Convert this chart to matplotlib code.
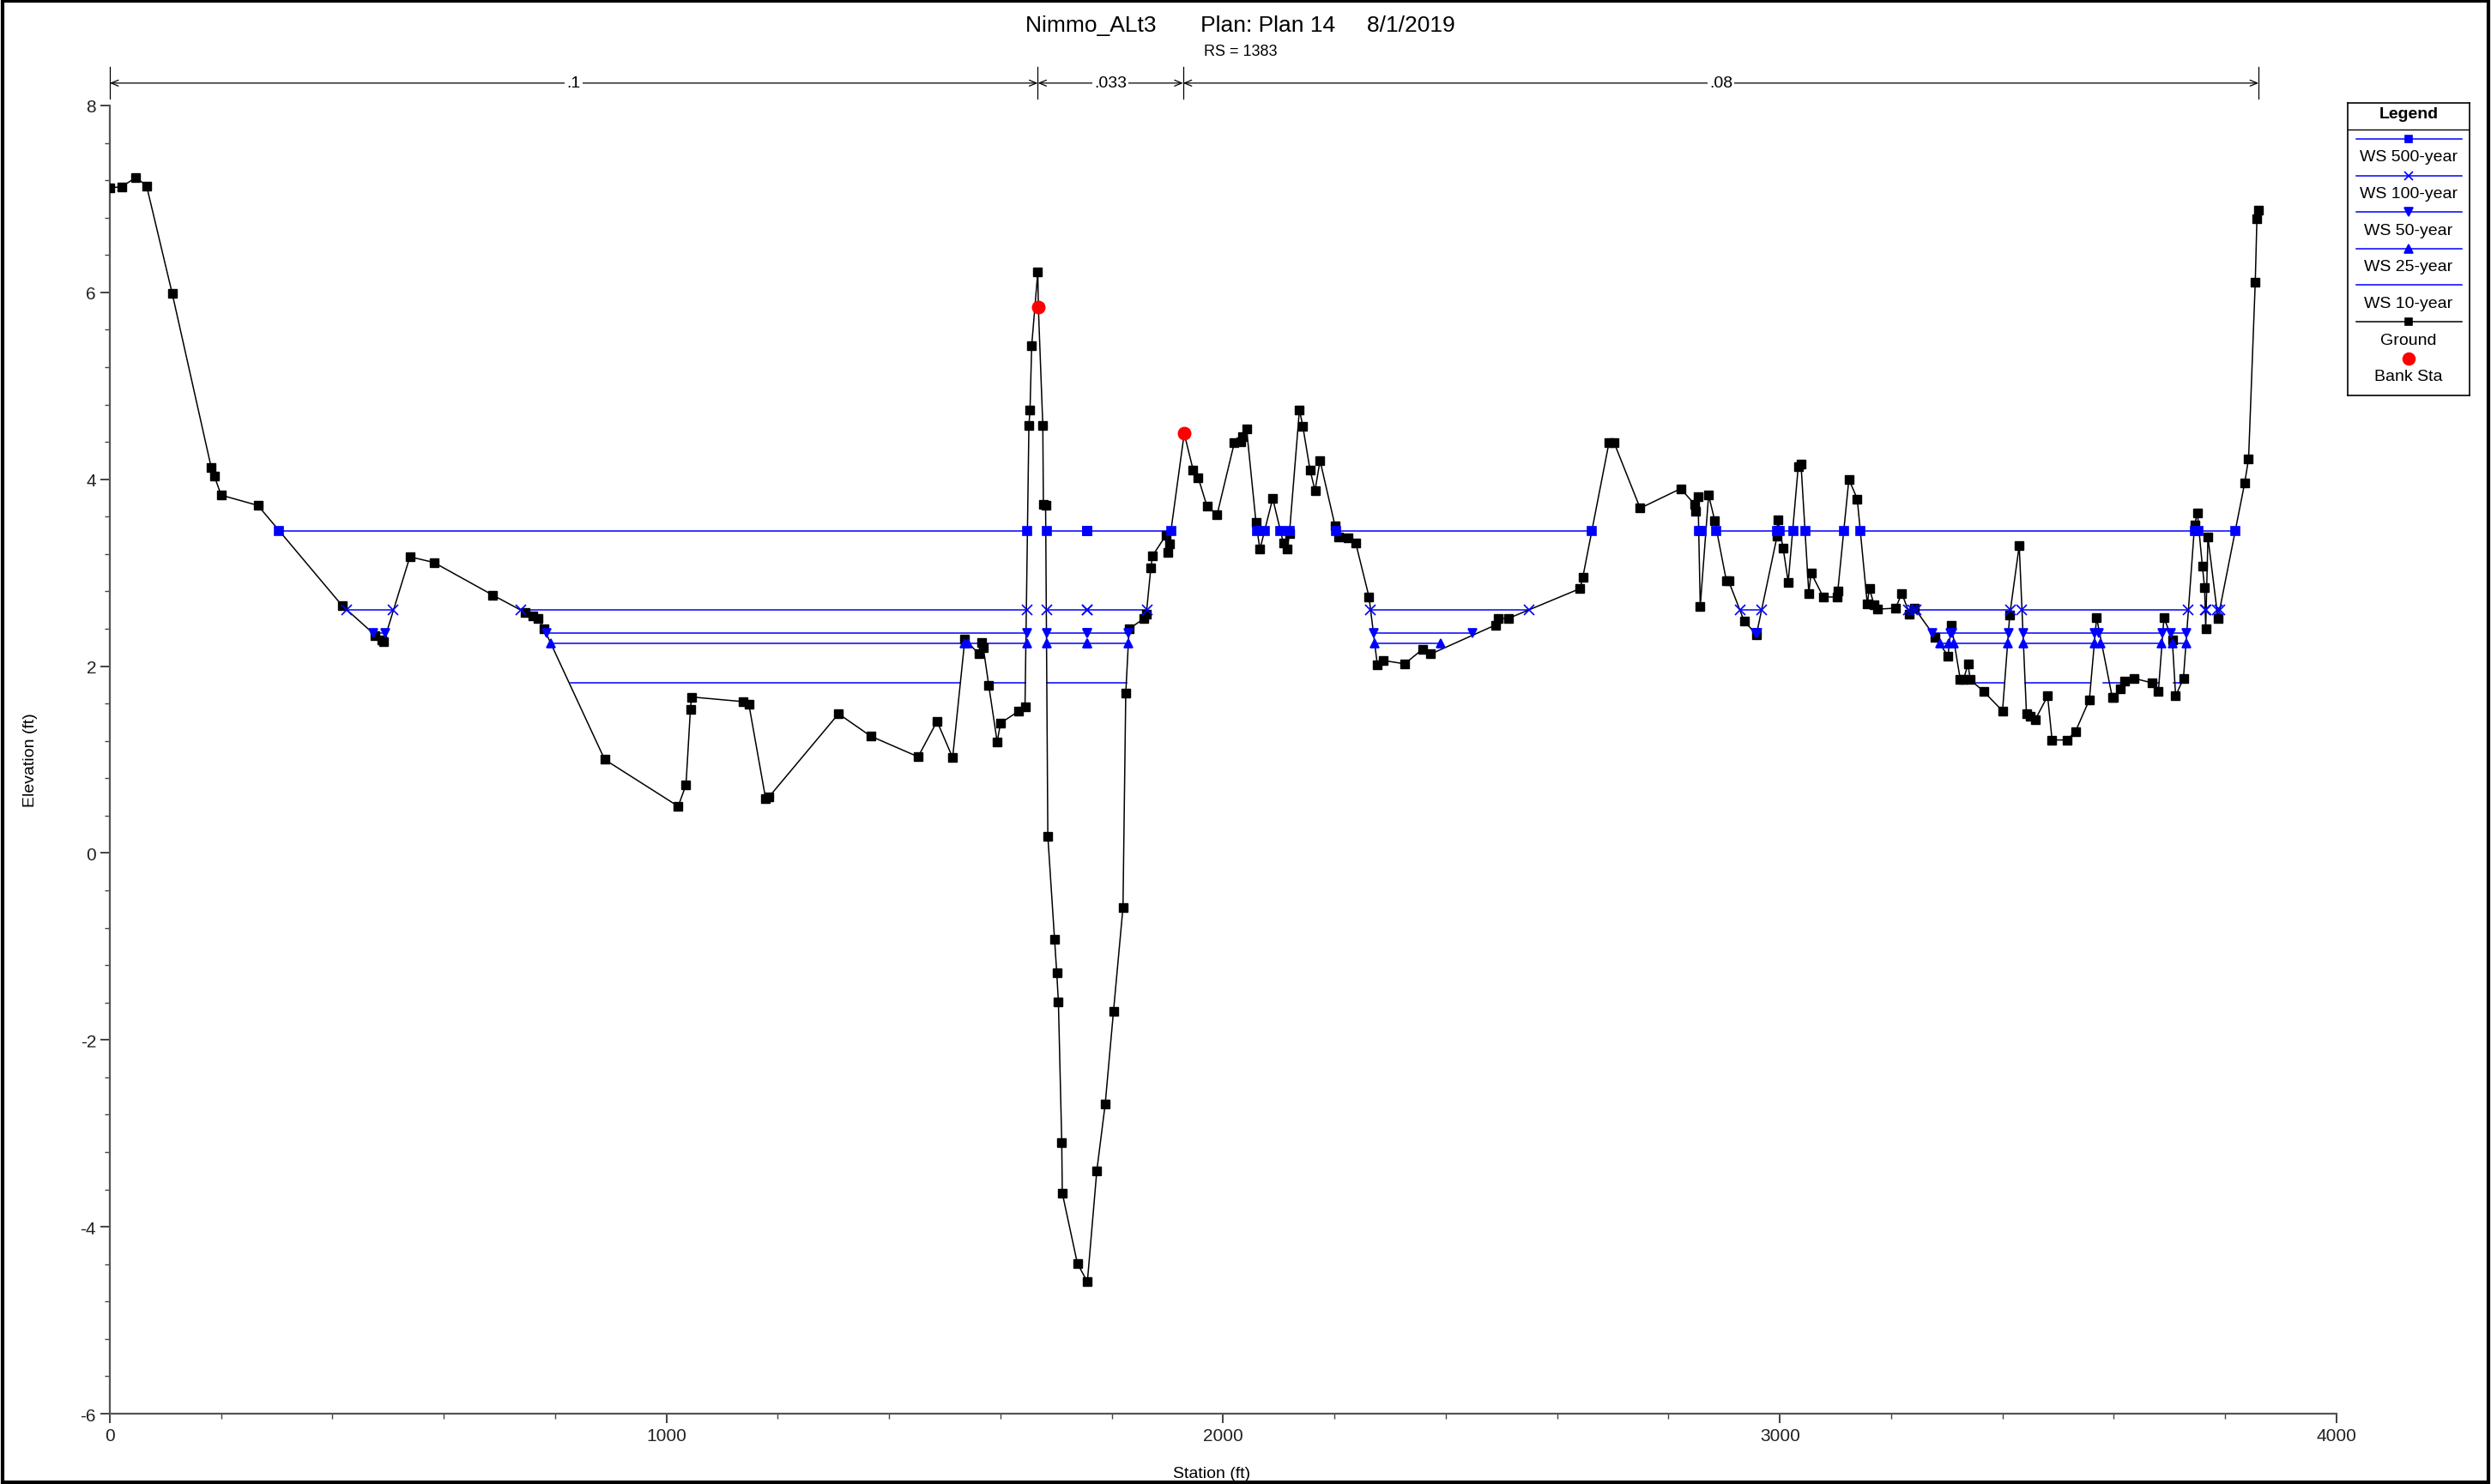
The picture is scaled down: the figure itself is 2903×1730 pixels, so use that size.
import matplotlib
matplotlib.use("Agg")
import matplotlib.pyplot as plt
from matplotlib.ticker import MultipleLocator
from matplotlib.patches import Rectangle

# Ground profile (station ft, elevation ft)
ground_sta = [0, 21, 47, 66, 112, 182, 188, 200, 266, 417, 477, 488, 492, 539, 582,
              688, 746, 760, 769, 780, 889, 1021, 1035, 1043, 1045, 1138, 1148, 1178,
              1184, 1309, 1367, 1452, 1486, 1514, 1536, 1561, 1566, 1569, 1579, 1594,
              1600, 1633, 1644, 1651, 1653, 1656, 1667, 1668, 1676, 1677, 1681, 1685,
              1697, 1701, 1704, 1710, 1711, 1738, 1756, 1773, 1788, 1803, 1820, 1825,
              1831, 1858, 1862, 1870, 1873, 1897, 1901, 1903, 1930, 1946, 1955, 1971,
              1989, 2020, 2031, 2034, 2042, 2059, 2066, 2089, 2108, 2115, 2119, 2137,
              2143, 2156, 2165, 2174, 2201, 2208, 2224, 2238, 2262, 2277, 2288, 2326,
              2358, 2373, 2489, 2494, 2512, 2641, 2646, 2693, 2702, 2749, 2822, 2847,
              2848, 2853, 2857, 2872, 2883, 2904, 2908, 2936, 2958, 2995, 2996, 3006,
              3015, 3033, 3038, 3052, 3056, 3078, 3103, 3104, 3124, 3139, 3157, 3161,
              3169, 3175, 3208, 3219, 3233, 3242, 3279, 3302, 3308, 3324, 3330, 3338,
              3342, 3366, 3400, 3413, 3430, 3443, 3450, 3459, 3481, 3489, 3516, 3531,
              3556, 3569, 3597, 3600, 3612, 3620, 3636, 3669, 3680, 3690, 3705, 3711,
              3725, 3745, 3750, 3759, 3763, 3765, 3769, 3787, 3835, 3842, 3854, 3857,
              3860]
ground_elev = [7.12, 7.13, 7.23, 7.14, 5.99, 4.13, 4.03, 3.83, 3.72, 2.65, 2.33, 2.28,
               2.26, 3.17, 3.11, 2.76, 2.575, 2.54, 2.51, 2.40, 1.00, 0.50, 0.73, 1.54,
               1.67, 1.62, 1.59, 0.585, 0.60, 1.49, 1.25, 1.03, 1.41, 1.02, 2.29, 2.13,
               2.25, 2.20, 1.79, 1.19, 1.39, 1.52, 1.565, 4.575, 4.74, 5.43, 6.22, 5.84,
               4.575, 3.73, 3.72, 0.18, -0.92, -1.28, -1.595, -3.095, -3.64, -4.39,
               -4.59, -3.40, -2.69, -1.69, -0.585, 1.71, 2.40, 2.51, 2.56, 3.05, 3.18,
               3.40, 3.22, 3.31, 4.49, 4.10, 4.02, 3.71, 3.62, 4.39, 4.40, 4.46, 4.54,
               3.535, 3.25, 3.795, 3.32, 3.255, 3.42, 4.745, 4.57, 4.10, 3.88, 4.20,
               3.50, 3.38, 3.37, 3.32, 2.74, 2.01, 2.06, 2.025, 2.18, 2.13, 2.44, 2.51,
               2.51, 2.83, 2.95, 4.39, 4.395, 3.69, 3.90, 3.73, 3.66, 3.81, 2.64, 3.83,
               3.56, 2.91, 2.91, 2.48, 2.34, 3.39, 3.57, 3.26, 2.90, 4.135, 4.16, 2.78,
               3.00, 2.74, 2.74, 2.80, 4.00, 3.79, 2.67, 2.83, 2.66, 2.61, 2.62, 2.78,
               2.56, 2.62, 2.31, 2.11, 2.44, 1.86, 1.86, 2.02, 1.855, 1.73, 1.52, 2.55,
               3.29, 1.49, 1.46, 1.43, 1.68, 1.21, 1.21, 1.30, 1.64, 2.52, 1.67, 1.67,
               1.76, 1.84, 1.87, 1.82, 1.73, 2.52, 2.28, 1.68, 1.87, 3.51, 3.64, 3.07,
               2.84, 2.40, 3.38, 2.51, 3.96, 4.22, 6.11, 6.79, 6.88]

# Bank stations
bank_sta = [1668, 1930]
bank_elev = [5.84, 4.49]

# Water surfaces: elevation and wet segments (start, end stations)
ws_names = ["WS 500-year", "WS 100-year", "WS 50-year", "WS 25-year", "WS 10-year"]
ws_elev = [3.45, 2.60, 2.35, 2.24, 1.82]
ws_markers = ["s", "x", "v", "^", None]
ws_segments = [
    [(304, 1648), (1683, 1756), (1756, 1906), (2061, 2075), (2103, 2119), (2203, 2662),
     (2854, 2860), (2886, 2995), (3000, 3024), (3046, 3116), (3144, 3745), (3752, 3818)],
    [(426, 508), (738, 1648), (1683, 1756), (1756, 1863), (2265, 2549), (2929, 2967),
     (3231, 3239), (3244, 3414), (3435, 3734), (3764, 3766), (3786, 3790)],
    [(474, 495), (785, 1648), (1683, 1756), (1756, 1830), (2270, 2448), (2956, 2960),
     (3274, 3306), (3310, 3411), (3437, 3566), (3573, 3687), (3702, 3731)],
    [(793, 1535), (1541, 1648), (1683, 1756), (1756, 1830), (2272, 2390), (3288, 3304),
     (3313, 3410), (3437, 3565), (3576, 3686), (3705, 3730)],
    [(827, 1528), (1578, 1644), (1684, 1826), (3348, 3404), (3440, 3558), (3580, 3617),
     (3668, 3681), (3707, 3722)],
]

# Manning's n regions
n_sta = [0, 1667, 1928, 3860]
n_vals = [".1", ".033", ".08"]

BLUE = "#0000ff"
narrow = ["Liberation Sans Narrow", "Liberation Sans", "DejaVu Sans"]
arial = ["Liberation Sans", "DejaVu Sans"]
plt.rcParams["font.family"] = arial
plt.rcParams["axes.unicode_minus"] = False

fig = plt.figure(figsize=(29.03, 17.31), dpi=100)
ax = fig.add_axes([0.04409, 0.04737, 0.8939, 0.8810])

msize = {"s": 7, "x": 8.5, "v": 7.5, "^": 7.5}

# water surface lines
for z, segs in zip(ws_elev, ws_segments):
    for a, b in segs:
        ax.plot([a, b], [z, z], color=BLUE, lw=1.1, zorder=2)

# ground
ax.plot(ground_sta, ground_elev, color="black", lw=1.1, marker="s", ms=6.5,
        mfc="black", mec="black", zorder=3)

# water surface markers
for z, segs, m in zip(ws_elev, ws_segments, ws_markers):
    if m is None:
        continue
    for a, b in segs:
        ax.plot([a, b], [z, z], ls="none", marker=m, ms=msize[m], color=BLUE,
                mew=1.2, zorder=4)

ax.plot(bank_sta, bank_elev, ls="none", marker="o", ms=10.5, color="red", zorder=5)

ax.set_xlim(0, 4000)
ax.set_ylim(-6, 8)
ax.xaxis.set_major_locator(MultipleLocator(1000))
ax.xaxis.set_minor_locator(MultipleLocator(200))
ax.yaxis.set_major_locator(MultipleLocator(2))
ax.yaxis.set_minor_locator(MultipleLocator(0.4))
ax.tick_params(which="major", direction="out", length=8, width=1.2, labelsize=15,
               colors="#222222")
ax.tick_params(which="minor", direction="out", length=4, width=1.0, colors="#444444")
for s in ["top", "right"]:
    ax.spines[s].set_visible(False)
for s in ["left", "bottom"]:
    ax.spines[s].set_color("#555555")
    ax.spines[s].set_linewidth(1.6)

# Manning's n annotation above the plot
y_arrow = 8.24
for s in n_sta:
    ax.plot([s, s], [8.07, 8.41], color="black", lw=0.9, clip_on=False)
for i, v in enumerate(n_vals):
    a, b = n_sta[i], n_sta[i + 1]
    ax.annotate("", xy=(b, y_arrow), xytext=(a, y_arrow), annotation_clip=False,
                arrowprops=dict(arrowstyle="<->,head_length=0.6,head_width=0.25",
                                lw=0.9, color="black", shrinkA=0, shrinkB=0))
    ax.text((a + b) / 2, y_arrow, v, ha="center", va="center", fontsize=14,
            family=narrow, bbox=dict(fc="white", ec="none", pad=1.5), clip_on=False)

ax.set_xlabel("Station (ft)", fontsize=14, family=narrow)
ax.set_ylabel("Elevation (ft)", fontsize=14, family=narrow)
ax.xaxis.set_label_coords(0.4948, -0.040)
ax.yaxis.set_label_coords(-0.0325, 0.5)

fig.text(0.498, 0.9827, "Nimmo_ALt3       Plan: Plan 14     8/1/2019", ha="center",
         va="center", fontsize=19, family=narrow)
fig.text(0.498, 0.9648, "RS = 1383", ha="center", va="center", fontsize=13,
         family=narrow)

# legend box
lax = fig.add_axes([0.9425, 0.7331, 0.0489, 0.1970])
lax.set_xlim(0, 142)
lax.set_ylim(341, 0)
lax.set_xticks([])
lax.set_yticks([])
for s in lax.spines.values():
    s.set_linewidth(1.2)
lax.text(71, 13, "Legend", ha="center", va="center", fontsize=14, weight="bold")
lax.plot([0, 142], [31, 31], color="black", lw=1)
leg_items = [(n, BLUE, m) for n, m in zip(ws_names, ws_markers)]
leg_items += [("Ground", "black", "s"), ("Bank Sta", "red", "o")]
for i, (name, c, m) in enumerate(leg_items):
    yl = 42 + i * 42.6
    if name != "Bank Sta":
        lax.plot([10, 133], [yl, yl], color=c, lw=1.1)
    if m is not None:
        ms = 10 if m == "o" else msize[m] - 1
        lax.plot([71], [yl], marker=m, ms=ms, color=c, mew=1.2, ls="none")
    lax.text(71, yl + 21, name, ha="center", va="center", fontsize=14)

fig.patches.append(Rectangle((0.001, 0.001), 0.998, 0.998, transform=fig.transFigure,
                             fill=False, ec="black", lw=3))

fig.savefig("out.png", dpi=100)
